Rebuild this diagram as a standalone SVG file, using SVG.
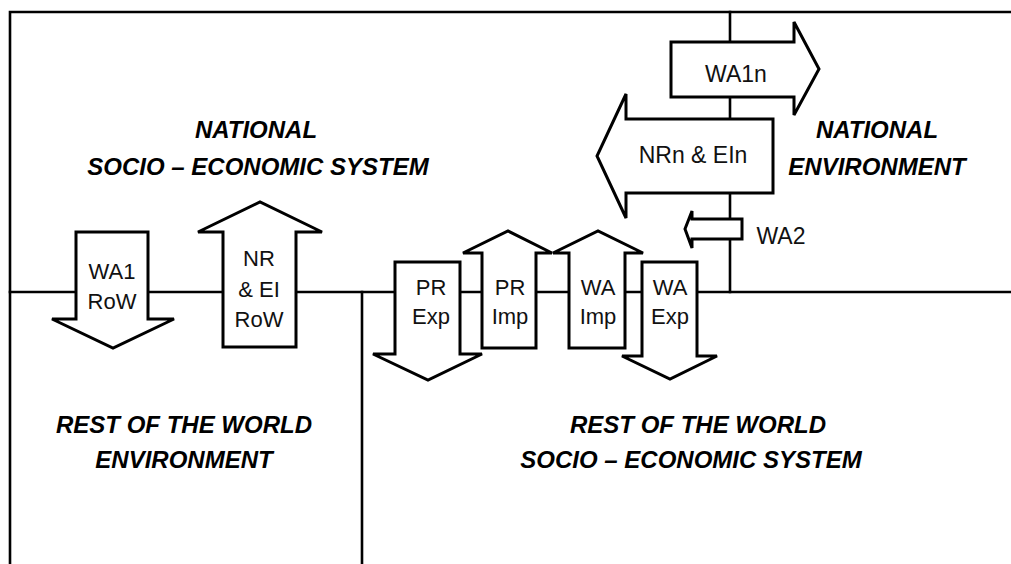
<svg xmlns="http://www.w3.org/2000/svg" width="1011" height="564" viewBox="0 0 1011 564">
<style>
.bg{fill:#ffffff}
.line{stroke:#000;stroke-width:2.6;fill:none;stroke-linecap:square}
.arrow{fill:#ffffff;stroke:#000;stroke-width:3;stroke-linejoin:miter}
.lbl{font-family:"Liberation Sans",Arial,sans-serif;font-size:22px;fill:#111;text-anchor:middle}
.lbl2{font-family:"Liberation Sans",Arial,sans-serif;font-size:23px;fill:#111;text-anchor:middle}
.title{font-family:"Liberation Sans",Arial,sans-serif;font-size:24px;font-weight:bold;font-style:italic;fill:#000;text-anchor:middle}
</style>
<rect class="bg" x="0" y="0" width="1011" height="564"/>
<g id="boundaries">
<path class="line" d="M10,564 V12 H1011"/>
<path class="line" d="M730,12 V292"/>
<path class="line" d="M10,292 H1011"/>
<path class="line" d="M362,292 V564"/>
</g>
<g id="title-national-ses">
<text class="title" x="256" y="138">NATIONAL</text>
<text class="title" x="258" y="175">SOCIO – ECONOMIC SYSTEM</text>
</g>
<g id="title-national-env">
<text class="title" x="877" y="138">NATIONAL</text>
<text class="title" x="877" y="175">ENVIRONMENT</text>
</g>
<g id="title-row-env">
<text class="title" x="184" y="433">REST OF THE WORLD</text>
<text class="title" x="184" y="468">ENVIRONMENT</text>
</g>
<g id="title-row-ses">
<text class="title" x="698" y="433">REST OF THE WORLD</text>
<text class="title" x="691" y="468">SOCIO – ECONOMIC SYSTEM</text>
</g>
<g id="wa1n">
<path class="arrow" d="M671,42 H794 V22 L819,69 L794,115 V97 H671 Z"/>
<text class="lbl2" x="736" y="82">WA1n</text>
</g>
<g id="nrn-ein">
<path class="arrow" d="M773,119 V193 H626 V218 L597,156 L626,94 V119 Z"/>
<text class="lbl2" x="693" y="163">NRn &amp; EIn</text>
</g>
<g id="wa2">
<path class="arrow" d="M742,219 V239 H692 V248 L685,229 L692,211 V219 Z"/>
<text class="lbl2" x="781" y="244">WA2</text>
</g>
<g id="wa1-row">
<path class="arrow" d="M76,232 H148 V319 H174 L113,348 L52,319 H76 Z"/>
<text class="lbl" x="112" y="279">WA1</text>
<text class="lbl" x="112" y="309">RoW</text>
</g>
<g id="nr-ei-row">
<path class="arrow" d="M223,347 V232 H198 L260,202 L322,232 H296 V347 Z"/>
<text class="lbl" x="259" y="266">NR</text>
<text class="lbl" x="259" y="297">&amp; EI</text>
<text class="lbl" x="259" y="327">RoW</text>
</g>
<g id="pr-exp">
<path class="arrow" d="M395,262 H460 V354 H482 L428,380 L373,354 H395 Z"/>
<text class="lbl" x="431" y="295">PR</text>
<text class="lbl" x="431" y="324">Exp</text>
</g>
<g id="pr-imp">
<path class="arrow" d="M482,348 V253 H463 L508,231 L552,253 H536 V348 Z"/>
<text class="lbl" x="510" y="295">PR</text>
<text class="lbl" x="510" y="324">Imp</text>
</g>
<g id="wa-imp">
<path class="arrow" d="M569,348 V253 H553 L598,231 L643,253 H625 V348 Z"/>
<text class="lbl" x="598" y="295">WA</text>
<text class="lbl" x="598" y="324">Imp</text>
</g>
<g id="wa-exp">
<path class="arrow" d="M642,262 H697 V356 H717 L670,379 L622,356 H642 Z"/>
<text class="lbl" x="670" y="295">WA</text>
<text class="lbl" x="670" y="324">Exp</text>
</g>
</svg>
